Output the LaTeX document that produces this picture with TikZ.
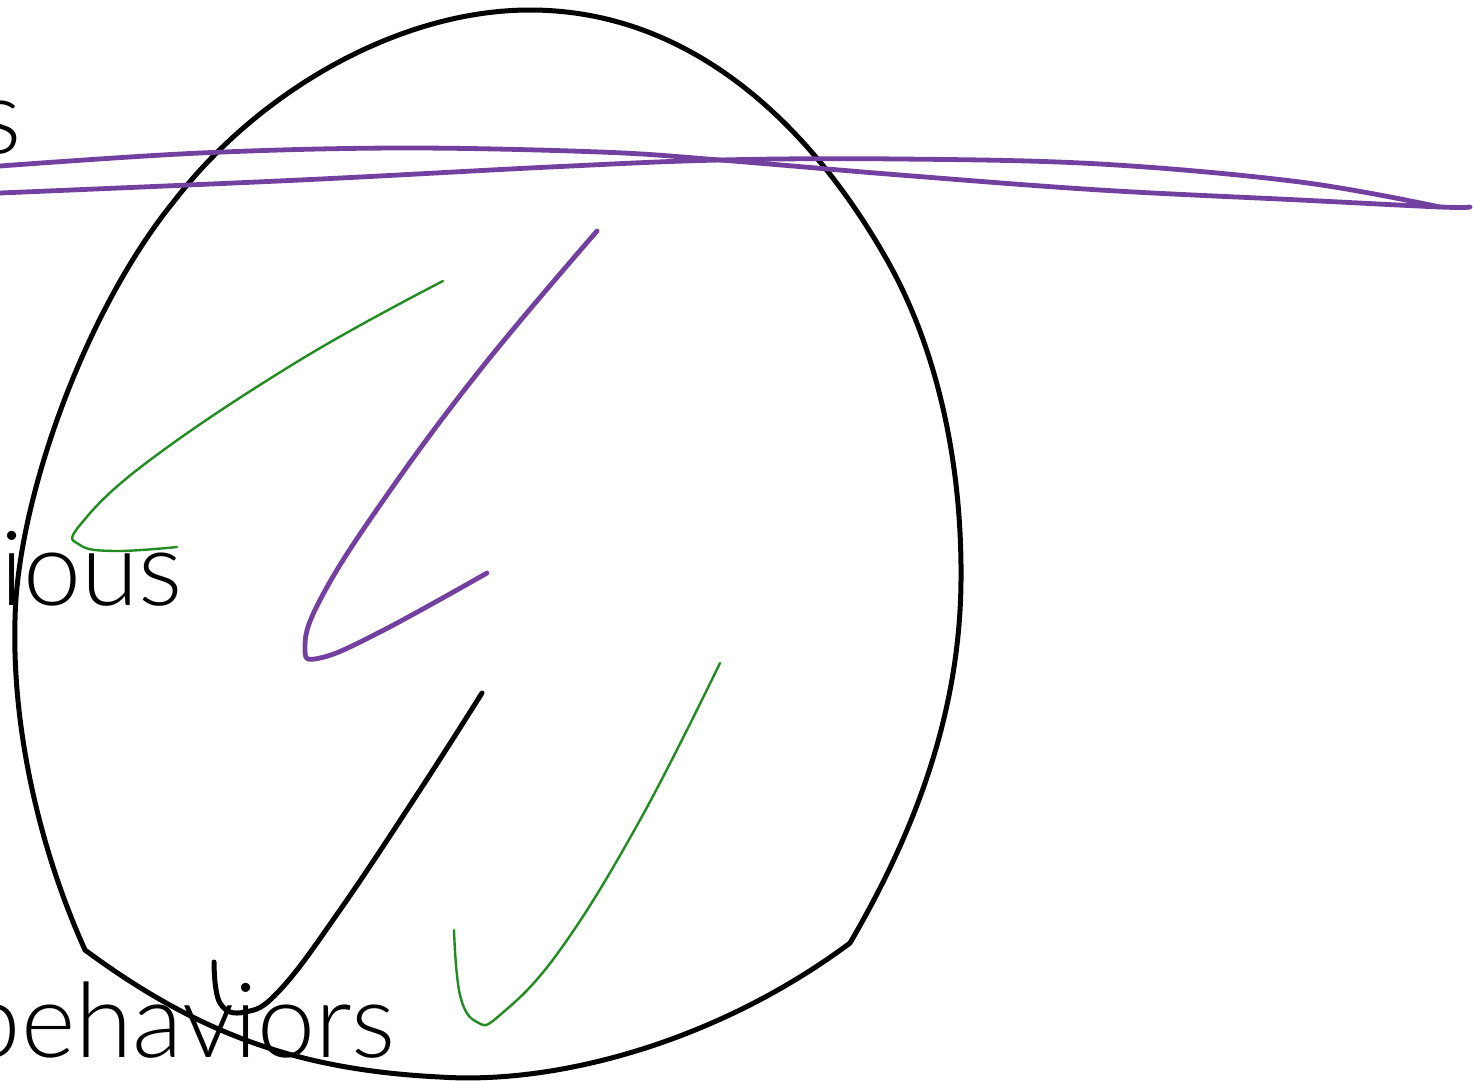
\documentclass[tikz,border=0pt]{standalone}
\usepackage{fontspec}
\setmainfont{Lato}[UprightFont=* Light]
\definecolor{sketchpurple}{RGB}{116,64,160}
\definecolor{sketchgreen}{RGB}{34,140,34}
\tikzset{
  outline/.style={draw=black,line width=5pt,line join=round,line cap=round},
  purplestroke/.style={draw=sketchpurple,line width=4.8pt,line cap=round,line join=round},
  greenstroke/.style={draw=sketchgreen,line width=2.4pt,line cap=round},
  blackstroke/.style={draw=black,line width=5pt,line cap=round},
  lbl/.style={font=\fontsize{104}{110}\selectfont,inner sep=0pt,anchor=base east}
}
\begin{document}
\begin{tikzpicture}[x=1pt,y=-1pt]
\useasboundingbox (0,0) rectangle (1474,1080);
\clip (0,0) rectangle (1474,1080);
% texts
\node[lbl] (t1) at (22,153) {s};
\node[lbl] (t2) at (183,605) {cious};
\node[lbl] (t3) at (396,1057) {behaviors};
% outline
\draw[outline] (85,950) .. controls (40,850) and (12,730) .. (15,620)
  .. controls (17,500) and (85,310) .. (175,200)
  .. controls (260,90) and (400,10) .. (530,10)
  .. controls (680,10) and (800,110) .. (883,253)
  .. controls (940,350) and (962,470) .. (961,580)
  .. controls (960,720) and (910,840) .. (850,943)
  .. controls (720,1040) and (560,1085) .. (440,1077)
  .. controls (300,1070) and (200,1035) .. (85,950) -- cycle;
% purple long strokes
\draw[purplestroke] plot[smooth,tension=0.6] coordinates {(0,166) (200,153) (400,148) (600,152) (720,160) (900,175) (1100,190) (1300,200) (1440,207) (1470,207)};
\draw[purplestroke] plot[smooth,tension=0.6] coordinates {(0,193) (300,180) (550,167) (720,160) (900,159) (1100,164) (1300,182) (1440,207)};
% purple zig
\draw[purplestroke] plot[smooth,tension=0.7] coordinates {(597,231) (480,370) (380,505) (320,600) (305,648) (320,658) (380,632) (487,573)};
% green upper
\draw[greenstroke] plot[smooth,tension=0.7] coordinates {(443,281) (300,360) (150,460) (80,525) (80,545) (115,551) (177,547)};
% green lower
\draw[greenstroke] plot[smooth,tension=0.7] coordinates {(720,663) (640,820) (560,950) (500,1015) (477,1022) (460,995) (454,930)};
% black stroke
\draw[blackstroke] plot[smooth,tension=0.7] coordinates {(482,693) (420,790) (340,910) (280,990) (245,1012) (220,1003) (214,962)};
\end{tikzpicture}
\end{document}
